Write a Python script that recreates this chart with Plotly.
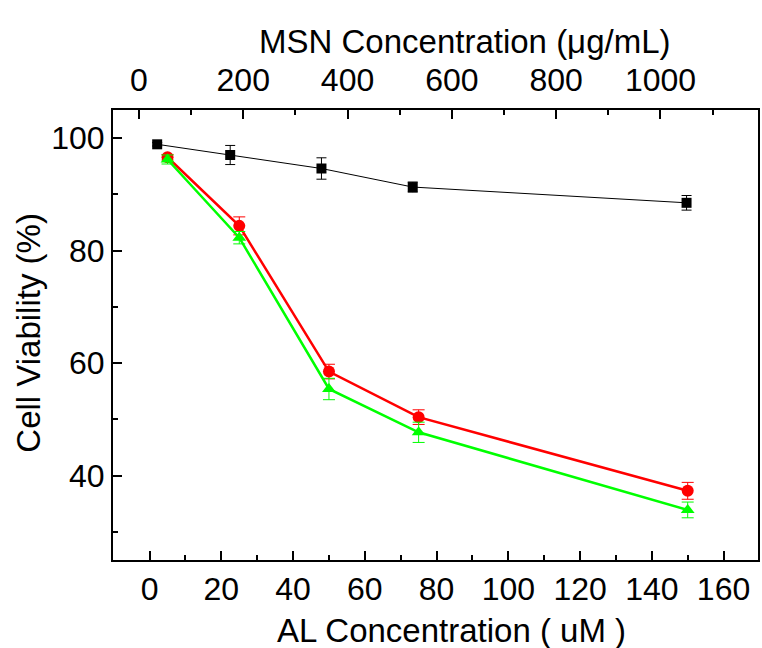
import plotly.graph_objects as go

# Data
al_conc = [5, 25, 50, 75, 150]             # bottom axis, uM
msn_conc = [35, 175, 350, 525, 1050]       # top axis, ug/mL
msn_viab = [98.9, 97.0, 94.6, 91.3, 88.5]
msn_err = [0.3, 1.7, 1.9, 0.9, 1.3]
red_viab = [96.6, 84.4, 58.5, 50.4, 37.3]
red_err = [0.5, 1.6, 1.3, 1.3, 1.5]
green_viab = [96.2, 82.3, 55.4, 47.7, 33.9]
green_err = [0.8, 1.1, 1.9, 1.8, 1.4]

FONT = "Liberation Sans, Arial, sans-serif"

fig = go.Figure()
fig.add_trace(go.Scatter(
    x=msn_conc, y=msn_viab, xaxis="x2", yaxis="y", mode="lines+markers",
    line=dict(color="black", width=1),
    marker=dict(symbol="square", size=10, color="black"),
    error_y=dict(type="data", array=msn_err, color="black", thickness=1, width=5),
    showlegend=False))
fig.add_trace(go.Scatter(
    x=al_conc, y=red_viab, mode="lines+markers",
    line=dict(color="#ff0000", width=2.5),
    marker=dict(symbol="circle", size=12, color="#ff0000"),
    error_y=dict(type="data", array=red_err, color="#ff0000", thickness=1, width=6),
    showlegend=False))
fig.add_trace(go.Scatter(
    x=al_conc, y=green_viab, mode="lines+markers",
    line=dict(color="#00ff00", width=2.5),
    marker=dict(symbol="triangle-up", size=12, color="#00ff00"),
    error_y=dict(type="data", array=green_err, color="#00ff00", thickness=1, width=6),
    showlegend=False))

axis_common = dict(
    showline=True, linecolor="black", linewidth=2,
    ticks="inside", ticklen=9, tickwidth=2, tickcolor="black",
    showgrid=False, zeroline=False,
    tickfont=dict(family=FONT, size=32, color="black"),
)

fig.update_layout(
    width=762, height=648,
    margin=dict(l=113, r=2, t=110, b=88),
    plot_bgcolor="white", paper_bgcolor="white",
    xaxis=dict(range=[-10.2, 169.6], tick0=0, dtick=20,
               minor=dict(dtick=10, ticklen=5, ticks="inside", tickwidth=2, tickcolor="black"),
               mirror=False, **axis_common),
    xaxis2=dict(range=[-49.7, 1187], overlaying="x", side="top", anchor="y",
                tick0=0, dtick=200, ticklabelstandoff=4,
                minor=dict(dtick=100, ticklen=5, ticks="inside", tickwidth=2, tickcolor="black"),
                **axis_common),
    yaxis=dict(range=[25, 105], tick0=0, dtick=20,
               minor=dict(dtick=10, ticklen=5, ticks="inside", tickwidth=2, tickcolor="black"),
               mirror=True, **axis_common),
    annotations=[
        dict(text="AL Concentration ( uM )", xref="paper", yref="paper",
             x=0.525, y=-0.156, xanchor="center", yanchor="middle", showarrow=False,
             font=dict(family=FONT, size=33, color="black")),
        dict(text="MSN Concentration (\u03bcg/mL)", xref="paper", yref="paper",
             x=0.545, y=1.153, xanchor="center", yanchor="middle", showarrow=False,
             font=dict(family=FONT, size=33, color="black")),
        dict(text="Cell Viability (%)", xref="paper", yref="paper",
             x=-0.131, y=0.504, xanchor="center", yanchor="middle", showarrow=False,
             textangle=-90, font=dict(family=FONT, size=33, color="black")),
    ],
)

fig.write_html("out.html")
